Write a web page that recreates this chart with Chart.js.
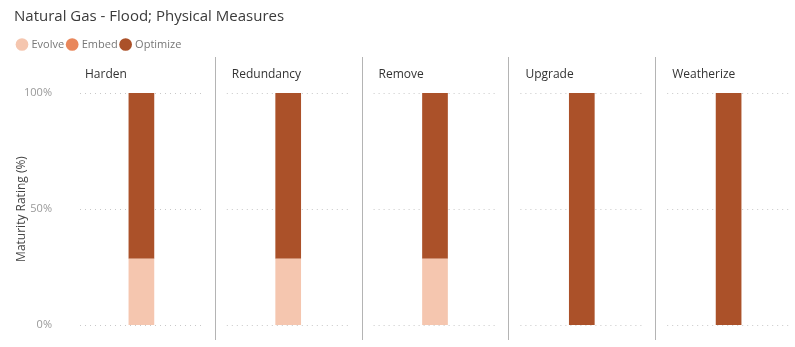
<!DOCTYPE html>
<html>
<head>
<meta charset="utf-8">
<title>Natural Gas - Flood; Physical Measures</title>
<script src="https://cdn.jsdelivr.net/npm/chart.js@4.4.1/dist/chart.umd.min.js"></script>
<style>
  html, body { margin: 0; padding: 0; background: #fff; overflow: hidden; }
  #wrap { width: 802px; height: 347px; }
</style>
</head>
<body>
<div id="wrap"><canvas id="chart"></canvas></div>
<script>
  "use strict";

  // Data
  const panels = ["Harden", "Redundancy", "Remove", "Upgrade", "Weatherize"];
  const evolve = [28.6, 28.6, 28.6, 0, 0];
  const embed = [0, 0, 0, 0, 0];
  const optimize = [71.4, 71.4, 71.4, 100, 100];
  const yTicks = [0, 50, 100];

  const FONT = "'Segoe UI', 'Open Sans', sans-serif";

  // Panel headers, dotted gridlines and separators between the small multiples
  const panelPlugin = {
    id: "panels",
    beforeDatasetsDraw(chart) {
      const ctx = chart.ctx;
      const x = chart.scales.x;
      const y = chart.scales.y;
      const half = (x.getPixelForValue(1) - x.getPixelForValue(0)) / 2;
      ctx.save();
      ctx.strokeStyle = "#c8c8c8";
      ctx.lineWidth = 1;
      ctx.setLineDash([1, 4]);
      panels.forEach(function (p, i) {
        const cx = x.getPixelForValue(i);
        yTicks.forEach(function (t) {
          const py = Math.round(y.getPixelForValue(t)) + 0.5;
          ctx.beginPath();
          ctx.moveTo(cx - half + 12, py);
          ctx.lineTo(cx + half - 12, py);
          ctx.stroke();
        });
      });
      ctx.setLineDash([]);
      ctx.strokeStyle = "#b4b4b4";
      for (let i = 0; i < panels.length - 1; i++) {
        const sx = Math.round(x.getPixelForValue(i) + half) + 0.5;
        ctx.beginPath();
        ctx.moveTo(sx, 57);
        ctx.lineTo(sx, 340);
        ctx.stroke();
      }
      ctx.fillStyle = "#333";
      ctx.font = "12px " + FONT;
      ctx.textAlign = "left";
      ctx.textBaseline = "middle";
      panels.forEach(function (p, i) {
        ctx.fillText(p, x.getPixelForValue(i) - half + 17, chart.chartArea.top - 18);
      });
      ctx.restore();
    },
  };

  new Chart(document.getElementById("chart").getContext("2d"), {
    type: "bar",
    data: {
      labels: panels,
      datasets: [
        { label: "Evolve", data: evolve, backgroundColor: "#f5c6af" },
        { label: "Embed", data: embed, backgroundColor: "#e9875b" },
        { label: "Optimize", data: optimize, backgroundColor: "#ab5129" },
      ],
    },
    options: {
      responsive: true,
      maintainAspectRatio: false,
      animation: false,
      layout: { padding: { left: 14, right: 0, top: 0, bottom: 22 } },
      datasets: { bar: { barPercentage: 1, categoryPercentage: 0.175 } },
      plugins: {
        title: {
          display: true,
          text: "Natural Gas - Flood; Physical Measures",
          align: "start",
          color: "#3a3a3a",
          font: { family: FONT, size: 15, weight: "normal" },
          padding: { top: 8, bottom: 9 },
        },
        legend: {
          display: true,
          align: "start",
          labels: {
            usePointStyle: true,
            pointStyle: "circle",
            boxWidth: 8,
            boxHeight: 9,
            padding: 4,
            color: "#777",
            font: { family: FONT, size: 11 },
          },
        },
        tooltip: { enabled: false },
      },
      scales: {
        x: {
          position: "top",
          stacked: true,
          grid: { display: false },
          border: { display: false },
          ticks: { display: false },
          afterFit: function (scale) {
            scale.height = 33;
          },
        },
        y: {
          stacked: true,
          min: 0,
          max: 100,
          grid: { display: false },
          border: { display: false },
          afterBuildTicks: function (scale) {
            scale.ticks = yTicks.map(function (v) { return { value: v }; });
          },
          afterFit: function (scale) {
            scale.width = 54;
          },
          ticks: {
            padding: 8,
            color: "#999",
            font: { family: FONT, size: 11 },
            callback: function (v) { return v + "%"; },
          },
          title: {
            display: true,
            text: "Maturity Rating (%)",
            color: "#444",
            font: { family: FONT, size: 12 },
            padding: { top: 0, bottom: 0 },
          },
        },
      },
    },
    plugins: [panelPlugin],
  });
</script>
</body>
</html>
